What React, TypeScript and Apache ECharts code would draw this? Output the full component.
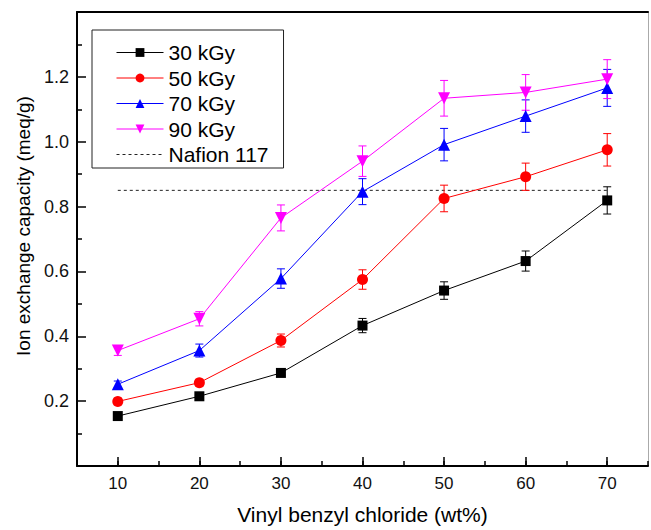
import React, { useEffect, useRef } from 'react';
import * as echarts from 'echarts';

const xValues = [10, 20, 30, 40, 50, 60, 70];
const seriesNames = ['30 kGy', '50 kGy', '70 kGy', '90 kGy'];
const values30 = [0.154, 0.215, 0.287, 0.433, 0.541, 0.632, 0.819];
const errors30 = [0.008, 0.008, 0.01, 0.022, 0.027, 0.031, 0.042];
const values50 = [0.199, 0.257, 0.387, 0.575, 0.825, 0.892, 0.975];
const errors50 = [0.01, 0.01, 0.02, 0.03, 0.041, 0.042, 0.05];
const values70 = [0.252, 0.356, 0.578, 0.846, 0.991, 1.079, 1.166];
const errors70 = [0.01, 0.02, 0.03, 0.04, 0.05, 0.05, 0.057];
const values90 = [0.356, 0.454, 0.765, 0.94, 1.134, 1.152, 1.193];
const errors90 = [0.015, 0.022, 0.04, 0.047, 0.055, 0.055, 0.06];
const nafionName = 'Nafion 117';
const nafionX = [10, 70];
const nafionValue = 0.85;
const xTickLabels = ['10', '20', '30', '40', '50', '60', '70'];
const yTickLabels = ['0.2', '0.4', '0.6', '0.8', '1.0', '1.2'];

const FONT = '"Liberation Sans", Arial, sans-serif';

const styles = [
  { color: '#000000', symbol: 'rect', size: 10, rotate: 0 },
  { color: '#ff0000', symbol: 'circle', size: 11, rotate: 0 },
  { color: '#0000ff', symbol: 'triangle', size: 12, rotate: 0 },
  { color: '#ff00ff', symbol: 'triangle', size: 12, rotate: 180 },
];

export default function App() {
  const ref = useRef<HTMLDivElement>(null);
  useEffect(() => {
    if (!ref.current) return;
    const chart = echarts.init(ref.current, undefined, { renderer: 'svg' });
    const allValues = [values30, values50, values70, values90];
    const allErrors = [errors30, errors50, errors70, errors90];

    const lineSeries: any[] = seriesNames.map((name, k) => ({
      name,
      type: 'line',
      data: xValues.map((x, i) => [x, allValues[k][i]]),
      symbol: styles[k].symbol,
      symbolSize: styles[k].size,
      symbolRotate: styles[k].rotate,
      itemStyle: { color: styles[k].color },
      lineStyle: { color: styles[k].color, width: 1 },
      z: 3,
    }));

    const errSeries: any[] = seriesNames.map((name, k) => ({
      name: name + ' error',
      type: 'custom',
      silent: true,
      z: 2,
      encode: { x: 0, y: 1 },
      data: xValues.map((x, i) => [x, allValues[k][i], allErrors[k][i]]),
      renderItem: (params: any, api: any) => {
        const x = api.value(0);
        const y = api.value(1);
        const e = api.value(2);
        const top = api.coord([x, y + e]);
        const bot = api.coord([x, y - e]);
        const hw = 4;
        const style = { stroke: styles[k].color, lineWidth: 1 };
        return {
          type: 'group',
          children: [
            { type: 'line', shape: { x1: top[0], y1: top[1], x2: bot[0], y2: bot[1] }, style },
            { type: 'line', shape: { x1: top[0] - hw, y1: top[1], x2: top[0] + hw, y2: top[1] }, style },
            { type: 'line', shape: { x1: bot[0] - hw, y1: bot[1], x2: bot[0] + hw, y2: bot[1] }, style },
          ],
        };
      },
    }));

    const nafionSeries = {
      name: nafionName,
      type: 'line',
      data: nafionX.map((x) => [x, nafionValue]),
      symbol: 'none',
      itemStyle: { color: 'rgba(0,0,0,0)' },
      lineStyle: { color: '#222', width: 1, type: [3, 3] },
      z: 1,
    };

    chart.setOption({
      animation: false,
      backgroundColor: '#fff',
      grid: {
        left: 77,
        right: 1,
        top: 12,
        bottom: 60,
        show: false,
      },
      legend: {
        orient: 'vertical',
        left: 92,
        top: 30,
        align: 'left',
        data: [
          ...seriesNames,
          { name: nafionName, itemStyle: { color: 'rgba(0,0,0,0)', borderWidth: 0 } },
        ],
        itemWidth: 47,
        itemHeight: 11,
        itemGap: 4.5,
        padding: [12, 15, 3, 24],
        borderColor: '#222',
        borderWidth: 1,
        selectedMode: false,
        lineStyle: { width: 1 },
        textStyle: { fontSize: 21, fontFamily: FONT, color: '#000' },
      },
      xAxis: [
        {
          type: 'value',
          min: 5,
          max: 75,
          interval: 5,
          position: 'bottom',
          name: 'Vinyl benzyl chloride (wt%)',
          nameLocation: 'middle',
          nameGap: 38,
          nameTextStyle: { fontSize: 21, fontFamily: FONT, color: '#000' },
          axisLine: { show: true, onZero: false, lineStyle: { color: '#000', width: 2 } },
          axisTick: { show: true, inside: true, length: 5, lineStyle: { color: '#000', width: 1.5 } },
          axisLabel: {
            show: true,
            margin: 9,
            fontSize: 17,
            fontFamily: FONT,
            color: '#111',
            formatter: (v: number) => {
              const s = String(Math.round(v));
              return Math.abs(v - Math.round(v)) < 1e-6 && xTickLabels.includes(s) ? s : '';
            },
          },
          splitLine: { show: false },
        },
        {
          type: 'value',
          min: 5,
          max: 75,
          interval: 10,
          position: 'bottom',
          axisLine: { show: false, onZero: false },
          axisTick: { show: false, inside: true },
          minorTick: { show: true, splitNumber: 2, length: 9, lineStyle: { color: '#000', width: 1.5 } },
          axisLabel: { show: false },
          splitLine: { show: false },
        },
        {
          type: 'value',
          min: 5,
          max: 75,
          position: 'top',
          axisLine: { show: true, onZero: false, lineStyle: { color: '#000', width: 2 } },
          axisTick: { show: false },
          axisLabel: { show: false },
          splitLine: { show: false },
        },
      ],
      yAxis: [
        {
          type: 'value',
          min: 0,
          max: 1.4,
          interval: 0.2,
          position: 'left',
          name: 'Ion exchange capacity (meq/g)',
          nameLocation: 'middle',
          nameGap: 40,
          nameTextStyle: { fontSize: 19, fontFamily: FONT, color: '#000', padding: [0, 0, 0, 26] },
          axisLine: { show: true, onZero: false, lineStyle: { color: '#000', width: 2 } },
          axisTick: { show: true, inside: true, length: 9, lineStyle: { color: '#000', width: 1.5 } },
          minorTick: { show: true, splitNumber: 2, length: 5, lineStyle: { color: '#000', width: 1.5 } },
          axisLabel: {
            show: true,
            margin: 8,
            fontSize: 18,
            fontFamily: FONT,
            color: '#111',
            formatter: (v: number) => {
              const s = v.toFixed(1);
              return yTickLabels.includes(s) ? s : '';
            },
          },
          splitLine: { show: false },
        },
        {
          type: 'value',
          min: 0,
          max: 1.4,
          position: 'right',
          axisLine: { show: true, onZero: false, lineStyle: { color: '#aaa', width: 1 } },
          axisTick: { show: false },
          axisLabel: { show: false },
          splitLine: { show: false },
        },
      ],
      series: [nafionSeries, ...errSeries, ...lineSeries],
    });
    return () => chart.dispose();
  }, []);
  return (
    <div
      ref={ref}
      style={{ position: 'fixed', left: 0, top: 0, width: 651, height: 530, background: '#fff' }}
    />
  );
}
